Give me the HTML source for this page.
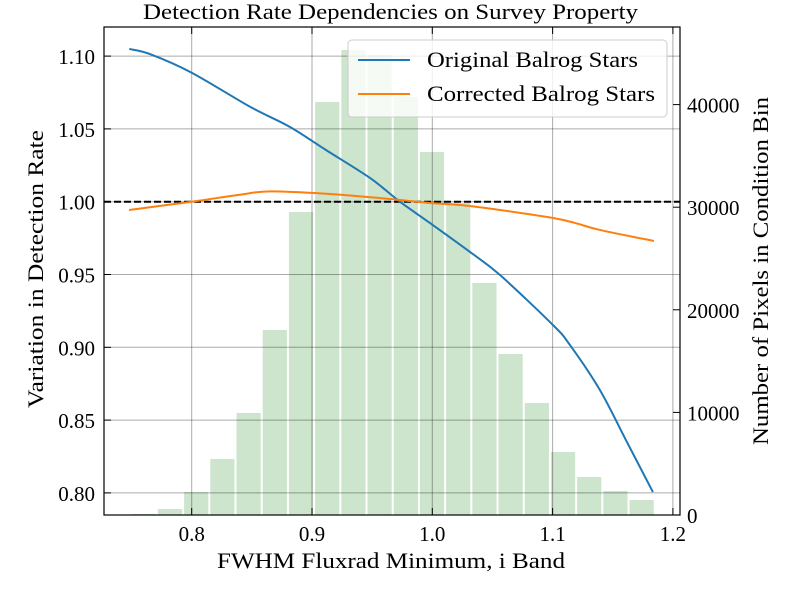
<!DOCTYPE html>
<html><head><meta charset="utf-8"><style>
body{margin:0;background:#fff}
svg{display:block;font-family:"Liberation Serif","DejaVu Serif",serif}
</style></head><body>
<svg id="chart" width="800" height="600" viewBox="0 0 800 600" xmlns="http://www.w3.org/2000/svg">
<rect width="800" height="600" fill="#fff"/>
<g id="bars"></g>
<g id="grid"></g>
<g id="lines"></g>
<g id="axes"></g>
<text x="143" y="19" font-size="22" textLength="495" lengthAdjust="spacingAndGlyphs">Detection Rate Dependencies on Survey Property</text>
<text x="217" y="568" font-size="22" textLength="348" lengthAdjust="spacingAndGlyphs">FWHM Fluxrad Minimum, i Band</text>
<text transform="translate(43,408) rotate(-90)" font-size="22" textLength="278" lengthAdjust="spacingAndGlyphs">Variation in Detection Rate</text>
<text transform="translate(768,445) rotate(-90)" font-size="22" textLength="348" lengthAdjust="spacingAndGlyphs">Number of Pixels in Condition Bin</text>
<g>
<rect x="348" y="40" width="319" height="77" rx="4" fill="#fff" fill-opacity="0.8" stroke="#ccc"/>
<line x1="358" y1="60" x2="410" y2="60" stroke="#1f77b4" stroke-width="2"/>
<text x="427" y="67" font-size="22" textLength="211" lengthAdjust="spacingAndGlyphs">Original Balrog Stars</text>
<line x1="358" y1="94" x2="410" y2="94" stroke="#ff7f0e" stroke-width="2"/>
<text x="427" y="101" font-size="22" textLength="228" lengthAdjust="spacingAndGlyphs">Corrected Balrog Stars</text>
</g>
</svg>
<script>
const binStart = 0.7493;
const binWidth = 0.02178;
const binCounts = [100, 580, 2240, 5460, 9940, 18030, 29530, 40250, 45320, 44830, 40740, 35380, 30410, 22610, 15690, 10920, 6140, 3700, 2340, 1460];
const originalX = [0.7481, 0.7653, 0.8, 0.8485, 0.8817, 0.9116, 0.9482, 0.9731, 0.998, 1.0313, 1.0562, 1.1003, 1.1144, 1.1393, 1.1609, 1.1834];
const originalY = [1.1049, 1.1014, 1.0886, 1.0652, 1.0513, 1.0355, 1.0163, 1.0, 0.9854, 0.9655, 0.9497, 0.9153, 0.9016, 0.8707, 0.8364, 0.8006];
const correctedX = [0.7479, 0.8, 0.8399, 0.8649, 0.9116, 0.9565, 0.998, 1.023, 1.0562, 1.1003, 1.1186, 1.1393, 1.1842];
const correctedY = [0.9943, 1.0, 1.0048, 1.0071, 1.0055, 1.0025, 0.9991, 0.9977, 0.9943, 0.9888, 0.9854, 0.9806, 0.9730];
const xTicks = [0.8, 0.9, 1.0, 1.1, 1.2];
const xTickLabels = ["0.8", "0.9", "1.0", "1.1", "1.2"];
const yTicks = [0.80, 0.85, 0.90, 0.95, 1.00, 1.05, 1.10];
const yTickLabels = ["0.80", "0.85", "0.90", "0.95", "1.00", "1.05", "1.10"];
const y2Ticks = [0, 10000, 20000, 30000, 40000];
const y2TickLabels = ["0", "10000", "20000", "30000", "40000"];

const L=104, R=680, T=27, B=515;
const X = v => 191.7 + (v - 0.8) * 1203;
const Y = v => 201.7 - (v - 1.0) * 1456;
const Y2 = v => 515 - v * 0.01026;
const NS = "http://www.w3.org/2000/svg";
function mk(tag, attrs, parent){const e=document.createElementNS(NS,tag);for(const k in attrs)e.setAttribute(k,attrs[k]);parent.appendChild(e);return e;}
const gb=document.getElementById('bars'), gg=document.getElementById('grid'), gl=document.getElementById('lines'), ga=document.getElementById('axes');

binCounts.forEach((c,i)=>{
  const x0=X(binStart+i*binWidth), x1=X(binStart+(i+1)*binWidth);
  const r=mk('rect',{x:x0+1,y:Y2(c),width:x1-x0-2,height:B-Y2(c),fill:'#cde4cd'},gb);
  
  
});
xTicks.forEach(t=>{
  const l=mk('line',{x1:X(t),x2:X(t),y1:T,y2:B,stroke:'#000','stroke-opacity':0.33,'stroke-width':1},gg);
  
  
});
yTicks.forEach(t=>{
  const l=mk('line',{x1:L,x2:R,y1:Y(t),y2:Y(t),stroke:'#000','stroke-opacity':0.33,'stroke-width':1},gg);
  
  
});
const ref=mk('line',{x1:L,x2:R,y1:Y(1),y2:Y(1),stroke:'#000','stroke-width':2,'stroke-dasharray':'7,3'},gl);


function smooth(xs,ys){
  const p=xs.map((x,i)=>[X(x),Y(ys[i])]);
  let d='M'+p[0][0]+','+p[0][1];
  for(let i=0;i<p.length-1;i++){
    const p0=p[i-1]||p[i],p1=p[i],p2=p[i+1],p3=p[i+2]||p[i+1];
    const c1=[p1[0]+(p2[0]-p0[0])/6,p1[1]+(p2[1]-p0[1])/6];
    const c2=[p2[0]-(p3[0]-p1[0])/6,p2[1]-(p3[1]-p1[1])/6];
    d+=' C'+c1+' '+c2+' '+p2;
  }
  return d;
}
const po=mk('path',{d:smooth(originalX,originalY),fill:'none',stroke:'#1f77b4','stroke-width':2},gl);


const pc=mk('path',{d:smooth(correctedX,correctedY),fill:'none',stroke:'#ff7f0e','stroke-width':2},gl);



const frame=mk('rect',{x:L,y:T,width:R-L,height:B-T,fill:'none',stroke:'#000','stroke-width':1.2},ga);


xTicks.forEach((t,i)=>{
  mk('line',{x1:X(t),x2:X(t),y1:B,y2:B-7,stroke:'#000'},ga);
  mk('line',{x1:X(t),x2:X(t),y1:T,y2:T+7,stroke:'#000'},ga);
  const tx=mk('text',{x:X(t),y:B+26,'text-anchor':'middle','font-size':21},ga);
  tx.textContent=xTickLabels[i];
  
  
});
yTicks.forEach((t,i)=>{
  mk('line',{x1:L,x2:L+7,y1:Y(t),y2:Y(t),stroke:'#000'},ga);
  const tx=mk('text',{x:L-9,y:Y(t)+8,'text-anchor':'end','font-size':21},ga);
  tx.textContent=yTickLabels[i];
  
  
});
y2Ticks.forEach((t,i)=>{
  mk('line',{x1:R,x2:R-7,y1:Y2(t),y2:Y2(t),stroke:'#000'},ga);
  const tx=mk('text',{x:R+7,y:Y2(t)+8,'text-anchor':'start','font-size':21},ga);
  tx.textContent=y2TickLabels[i];
  
  
});
</script>
</body></html>
